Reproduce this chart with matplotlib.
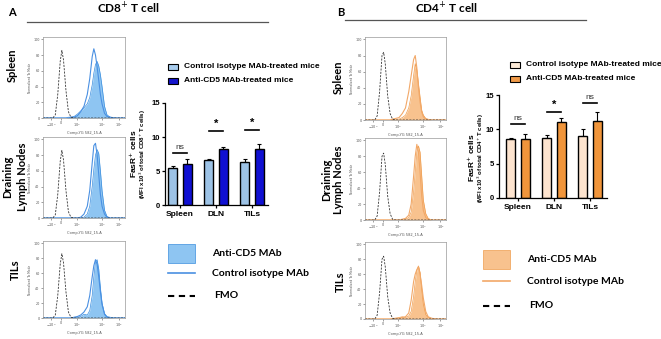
import numpy as np
import matplotlib
matplotlib.use("Agg")
import matplotlib.pyplot as plt
from matplotlib.patches import Rectangle
from matplotlib.lines import Line2D

W, H = 661, 339

# ---- bar chart data (MFI x10^3) ----
tissues = ["Spleen", "DLN", "TILs"]
cd8_ctrl = [5.5, 6.6, 6.3]
cd8_ctrl_err = [0.2, 0.2, 0.4]
cd8_anti = [6.1, 8.3, 8.2]
cd8_anti_err = [0.6, 0.3, 0.7]
cd8_sig = ["ns", "*", "*"]
cd8_sig_y = [7.6, 10.9, 11.0]

cd4_ctrl = [8.6, 8.8, 9.1]
cd4_ctrl_err = [0.1, 0.4, 0.9]
cd4_anti = [8.6, 11.0, 11.2]
cd4_anti_err = [0.7, 0.6, 1.3]
cd4_sig = ["ns", "*", "ns"]
cd4_sig_y = [10.8, 12.5, 13.8]

# ---- histogram data (display channel 0-100, % of mode) ----
hist_x = [0, 12, 15, 18, 21, 23, 25, 28, 31, 34, 38, 42, 46, 50,
          54, 57, 60, 62, 64, 66, 68, 70, 72, 75, 78, 82, 88, 100]
fmo_cd8 = [0, 0, 4, 30, 72, 86, 74, 35, 8, 1, 0, 0, 0, 0,
           0, 0, 0, 0, 0, 0, 0, 0, 0, 0, 0, 0, 0, 0]
fmo_cd4 = [0, 0, 5, 35, 80, 84, 70, 30, 8, 1, 0, 0, 0, 0,
           0, 0, 0, 0, 0, 0, 0, 0, 0, 0, 0, 0, 0, 0]
spl_cd8_anti = [0, 0, 0, 0, 0, 0, 0, 0, 1, 1, 2, 5, 9, 13,
                18, 26, 42, 57, 68, 72, 66, 55, 40, 15, 4, 1, 0, 0]
spl_cd8_ctrl = [0, 0, 0, 0, 0, 0, 0, 0, 0, 1, 1, 3, 8, 15,
                30, 50, 78, 88, 80, 65, 48, 30, 18, 6, 2, 1, 0, 0]
dln_cd8_anti = [0, 0, 0, 0, 0, 0, 0, 0, 0, 0, 0, 0, 0, 1,
                5, 15, 40, 62, 80, 87, 82, 60, 35, 10, 2, 0, 0, 0]
dln_cd8_ctrl = [0, 0, 0, 0, 0, 0, 0, 0, 0, 0, 0, 0, 1, 5,
                15, 35, 70, 92, 95, 80, 55, 30, 15, 5, 1, 0, 0, 0]
til_cd8_anti = [0, 0, 0, 0, 0, 0, 0, 0, 0, 0, 1, 1, 2, 5,
                4, 10, 30, 55, 75, 78, 65, 40, 20, 6, 2, 1, 0, 0]
til_cd8_ctrl = [0, 0, 0, 0, 0, 0, 0, 0, 0, 0, 1, 2, 4, 8,
                15, 30, 55, 70, 78, 72, 55, 35, 18, 5, 1, 0, 0, 0]
spl_cd4_anti = [0, 0, 0, 0, 0, 0, 0, 0, 0, 1, 1, 1, 3, 6,
                15, 30, 55, 70, 62, 45, 28, 12, 6, 2, 1, 0, 0, 0]
spl_cd4_ctrl = [0, 0, 0, 0, 0, 0, 0, 0, 0, 1, 2, 3, 8, 15,
                35, 55, 75, 80, 65, 40, 22, 10, 4, 1, 0, 0, 0, 0]
dln_cd4_anti = [0, 0, 0, 0, 0, 0, 0, 0, 0, 0, 0, 0, 0, 1,
                3, 10, 35, 60, 85, 93, 85, 55, 25, 8, 2, 0, 0, 0]
dln_cd4_ctrl = [0, 0, 0, 0, 0, 0, 0, 0, 0, 0, 0, 0, 1, 2,
                6, 20, 55, 80, 95, 85, 60, 30, 12, 3, 1, 0, 0, 0]
til_cd4_anti = [0, 0, 0, 0, 0, 0, 0, 0, 0, 1, 1, 2, 3, 2,
                4, 10, 30, 50, 65, 71, 62, 40, 20, 6, 2, 1, 0, 0]
til_cd4_ctrl = [0, 0, 0, 0, 0, 0, 0, 0, 0, 0, 1, 1, 2, 3,
                8, 25, 50, 60, 66, 70, 60, 45, 28, 10, 3, 1, 0, 0]

hist_ticks = [10, 22, 41, 72, 93]
hist_ticklabels = ["$-10^3$", "0", "$10^3$", "$10^4$", "$10^5$"]

HEAD = "Lato"
PRISM = "Liberation Sans"


def rect(x0, y0, x1, y1):
    return [x0 / W, 1 - y1 / H, (x1 - x0) / W, (y1 - y0) / H]


def fx(x):
    return x / W


def fy(y):
    return 1 - y / H


fig = plt.figure(figsize=(W / 100, H / 100), dpi=100)


def draw_hist(r, fmo, anti, ctrl, fill, edge, line):
    ax = fig.add_axes(rect(*r))
    ax.fill_between(hist_x, anti, color=fill, lw=0)
    ax.plot(hist_x, anti, color=edge, lw=0.5)
    ax.plot(hist_x, ctrl, color=line, lw=0.8)
    ax.plot(hist_x, fmo, color="#333333", lw=0.6, ls=(0, (2.5, 1.5)))
    ax.set_xlim(0, 100)
    ax.set_ylim(0, 103)
    ax.set_xticks(hist_ticks)
    ax.set_xticklabels(hist_ticklabels)
    ax.set_yticks([0, 20, 40, 60, 80, 100])
    ax.tick_params(labelsize=2.4, length=1.5, width=0.4, pad=1, colors="#555555")
    for s in ax.spines.values():
        s.set_color("#999999")
        s.set_linewidth(0.5)
    ax.set_ylabel("Normalized To Mode", fontsize=2.2, labelpad=1, color="#555555")
    ax.set_xlabel("Comp-YG 582_15-A", fontsize=2.6, labelpad=1.5, color="#555555")


def draw_bars(r, xlim, ctrl, ctrl_err, anti, anti_err, sig, sig_y, c_ctrl, c_anti):
    ax = fig.add_axes(rect(*r))
    x = np.arange(len(tissues))
    off, w = 0.2, 0.25
    ax.bar(x - off, ctrl, w, color=c_ctrl, edgecolor="black", lw=1.0, zorder=2)
    ax.bar(x + off, anti, w, color=c_anti, edgecolor="black", lw=1.0, zorder=2)
    z = np.zeros(len(x))
    ax.errorbar(x - off, ctrl, yerr=[z, ctrl_err], fmt="none", ecolor="black",
                elinewidth=0.8, capsize=1.6, capthick=0.8, zorder=1)
    ax.errorbar(x + off, anti, yerr=[z, anti_err], fmt="none", ecolor="black",
                elinewidth=0.8, capsize=1.6, capthick=0.8, zorder=1)
    for xi, s, yv in zip(x, sig, sig_y):
        ax.plot([xi - 0.19, xi + 0.19], [yv, yv], color="black", lw=1.2)
        if s == "*":
            ax.text(xi, yv + 0.3, s, ha="center", va="bottom", fontsize=8,
                    fontweight="bold", family=PRISM)
        else:
            ax.text(xi, yv + 0.3, s, ha="center", va="bottom", fontsize=6,
                    family=PRISM, color="#333333")
    ax.set_xlim(*xlim)
    ax.set_ylim(0, 15)
    ax.set_yticks([0, 5, 10, 15])
    ax.set_xticks(x)
    ax.set_xticklabels(tissues, fontweight="bold", family=PRISM, fontsize=6)
    for lab in ax.get_yticklabels():
        lab.set_family(PRISM)
        lab.set_fontweight("bold")
    ax.tick_params(axis="y", labelsize=5.5, length=2.5, width=0.9, pad=1)
    ax.tick_params(axis="x", length=2.5, width=0.9, pad=1.5)
    ax.spines[["top", "right"]].set_visible(False)
    ax.spines[["left", "bottom"]].set_linewidth(0.9)
    ax.set_facecolor("none")


def legend_top(x, y, c_ctrl, c_anti):
    for dy, c, t in [(0, c_ctrl, "Control isotype MAb-treated mice"),
                     (14, c_anti, "Anti-CD5 MAb-treated mice")]:
        fig.add_artist(Rectangle((fx(x), fy(y + dy + 3)), 10 / W, 6 / H,
                                 transform=fig.transFigure, facecolor=c,
                                 edgecolor="black", lw=0.8))
        fig.text(fx(x + 16), fy(y + dy), t, fontsize=6.0, fontweight="bold",
                 family=PRISM, va="center", ha="left")


def legend_bottom(x, y, fill, edge, line, gap):
    fig.add_artist(Rectangle((fx(x), fy(y + 10)), 27 / W, 19 / H,
                             transform=fig.transFigure, facecolor=fill,
                             edgecolor=edge, lw=0.5))
    fig.text(fx(x + 44), fy(y), "Anti-CD5 MAb", fontsize=7.5, fontweight="bold",
             family=HEAD, va="center")
    fig.add_artist(Line2D([fx(x), fx(x + 27)], [fy(y + gap), fy(y + gap)],
                          transform=fig.transFigure, color=line, lw=1.2))
    fig.text(fx(x + 44), fy(y + gap), "Control isotype MAb", fontsize=7.5,
             fontweight="bold", family=HEAD, va="center")
    fig.add_artist(Line2D([fx(x), fx(x + 27)], [fy(y + 2 * gap + 3), fy(y + 2 * gap + 3)],
                          transform=fig.transFigure, color="black", lw=1.5,
                          ls=(0, (3, 2.2))))
    fig.text(fx(x + 46), fy(y + 2 * gap + 3), "FMO", fontsize=7.5,
             fontweight="bold", family=HEAD, va="center")


# ---------------- panel A ----------------
fig.text(fx(8), fy(12), "A", fontsize=8, fontweight="bold", family=HEAD, va="center")
fig.text(fx(128), fy(8), "CD8$^{+}$ T cell", fontsize=8.5, fontweight="bold",
         family=HEAD, ha="center", va="center")
fig.add_artist(Line2D([fx(27), fx(268)], [fy(22), fy(22)],
                      transform=fig.transFigure, color="#555555", lw=0.9))

blue_fill, blue_edge, blue_line = "#8ec5f2", "#3b8ede", "#4a90e2"
draw_hist((43, 37, 125, 118), fmo_cd8, spl_cd8_anti, spl_cd8_ctrl, blue_fill, blue_edge, blue_line)
draw_hist((43, 137, 125, 218), fmo_cd8, dln_cd8_anti, dln_cd8_ctrl, blue_fill, blue_edge, blue_line)
draw_hist((43, 241, 125, 318), fmo_cd8, til_cd8_anti, til_cd8_ctrl, blue_fill, blue_edge, blue_line)

fig.text(fx(12), fy(65), "Spleen", rotation=90, fontsize=8, fontweight="bold",
         family=HEAD, ha="center", va="center")
fig.text(fx(8), fy(177), "Draining", rotation=90, fontsize=8, fontweight="bold",
         family=HEAD, ha="center", va="center")
fig.text(fx(22), fy(177), "Lymph Nodes", rotation=90, fontsize=8, fontweight="bold",
         family=HEAD, ha="center", va="center")
fig.text(fx(15), fy(270), "TILs", rotation=90, fontsize=8, fontweight="bold",
         family=HEAD, ha="center", va="center")

draw_bars((165, 103, 268, 205), (-0.42, 2.44), cd8_ctrl, cd8_ctrl_err, cd8_anti,
          cd8_anti_err, cd8_sig, cd8_sig_y, "#9dc3e6", "#1010d2")
fig.text(fx(133), fy(154), "FasR$^{+}$ cells", rotation=90, fontsize=6.0,
         fontweight="bold", family=PRISM, ha="center", va="center")
fig.text(fx(142.5), fy(154), "(MFI x10$^{3}$ of total CD8$^{+}$ T cells)", rotation=90,
         fontsize=4.3, fontweight="bold", family=PRISM, ha="center", va="center")
legend_top(168, 67, "#a9cdee", "#1515cc")
legend_bottom(168, 253, blue_fill, blue_edge, blue_line, 20)

# ---------------- panel B ----------------
fig.text(fx(337), fy(12), "B", fontsize=8, fontweight="bold", family=HEAD, va="center")
fig.text(fx(446), fy(8), "CD4$^{+}$ T cell", fontsize=8.5, fontweight="bold",
         family=HEAD, ha="center", va="center")
fig.add_artist(Line2D([fx(345), fx(586)], [fy(20), fy(20)],
                      transform=fig.transFigure, color="#555555", lw=0.9))

or_fill, or_edge, or_line = "#f8c28e", "#ef9d4e", "#f2a868"
draw_hist((365, 37, 446, 120), fmo_cd4, spl_cd4_anti, spl_cd4_ctrl, or_fill, or_edge, or_line)
draw_hist((365, 138, 446, 220), fmo_cd4, dln_cd4_anti, dln_cd4_ctrl, or_fill, or_edge, or_line)
draw_hist((365, 242, 446, 319), fmo_cd4, til_cd4_anti, til_cd4_ctrl, or_fill, or_edge, or_line)

fig.text(fx(338), fy(77), "Spleen", rotation=90, fontsize=8, fontweight="bold",
         family=HEAD, ha="center", va="center")
fig.text(fx(327), fy(180), "Draining", rotation=90, fontsize=8, fontweight="bold",
         family=HEAD, ha="center", va="center")
fig.text(fx(339), fy(180), "Lymph Nodes", rotation=90, fontsize=8, fontweight="bold",
         family=HEAD, ha="center", va="center")
fig.text(fx(340), fy(282), "TILs", rotation=90, fontsize=8, fontweight="bold",
         family=HEAD, ha="center", va="center")

draw_bars((499, 95, 607, 198), (-0.53, 2.47), cd4_ctrl, cd4_ctrl_err, cd4_anti,
          cd4_anti_err, cd4_sig, cd4_sig_y, "#fde4cf", "#f0953b")
fig.text(fx(471), fy(158), "FasR$^{+}$ cells", rotation=90, fontsize=6.0,
         fontweight="bold", family=PRISM, ha="center", va="center")
fig.text(fx(480.5), fy(158), "(MFI x10$^{3}$ of total CD4$^{+}$ T cells)", rotation=90,
         fontsize=4.3, fontweight="bold", family=PRISM, ha="center", va="center")
legend_top(510, 65, "#fdebd8", "#f09a48")
legend_bottom(483, 259, or_fill, or_edge, or_line, 22)

fig.savefig("out.png", dpi=100)
